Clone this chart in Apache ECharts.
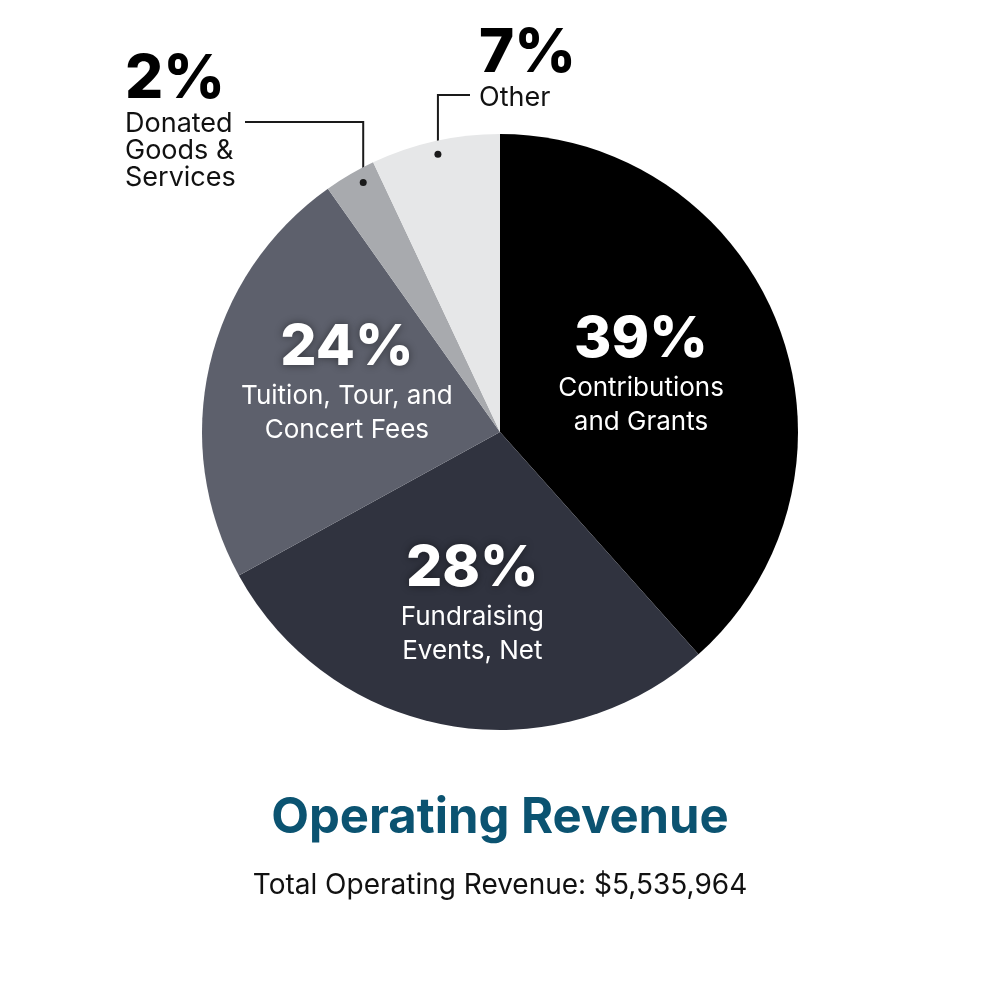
<!DOCTYPE html>
<html>
<head>
<meta charset="utf-8">
<script src="https://cdn.jsdelivr.net/npm/echarts@6/dist/echarts.min.js"></script>
<style>html,body{margin:0;padding:0;background:#fff}#c{width:1000px;height:1000px}</style>
</head>
<body>
<div id="c"></div>
<script>
const categories = ['Contributions and Grants', 'Fundraising Events, Net', 'Tuition, Tour, and Concert Fees', 'Donated Goods & Services', 'Other'];
const labelTexts = [['Contributions', 'and Grants'], ['Fundraising', 'Events, Net'], ['Tuition, Tour, and', 'Concert Fees'], ['Donated', 'Goods &', 'Services'], ['Other']];
// printed percentages
const pctLabels = [39, 28, 24, 2, 7];
// slice sizes as drawn in the picture (percent of the circle)
const values = [38.4, 28.6, 23.2, 2.8, 7.0];
const colors = ['#000000', '#30333f', '#5d606c', '#a8aaae', '#e6e7e8'];
const outsideIdx = [3, 4];

const FONT = 'Inter, "Open Sans", sans-serif';
const CX = 500, CY = 432, R = 298;
// layout constants for outside labels
const outsideLayout = {
  3: { x: 125, y: 50, lineY: 122, endX: 245, dotShift: 0.3 },
  4: { x: 479, y: 24, lineY: 95, endX: 470, dotShift: 0 }
};
const insideShift = { 0: [-1, -4], 1: [-2, 21], 2: [-5, -16] };

const total = values.reduce((a, b) => a + b, 0);
function midAngle(i, shift) {
  let s = 0;
  for (let k = 0; k < i; k++) s += values[k];
  return ((s + values[i] * (0.5 + (shift || 0) / 2)) / total) * 2 * Math.PI; // clockwise from top
}
function dotPos(i) {
  const a = midAngle(i, outsideLayout[i].dotShift), r = R * 0.955;
  return [CX + r * Math.sin(a), CY - r * Math.cos(a)];
}

const data = categories.map((name, i) => {
  const outside = outsideIdx.includes(i);
  const item = { name: name, value: values[i], itemStyle: { color: colors[i] } };
  if (outside) {
    item.label = {
      position: 'outside',
      formatter: '{q|' + pctLabels[i] + '%}\n' + labelTexts[i].map(t => '{m|' + t + '}').join('\n')
    };
    item.labelLine = { show: true, length: 10, length2: 10, lineStyle: { color: '#1a1a1a', width: 2 } };
  } else {
    item.label = {
      position: 'inside',
      formatter: '{p|' + pctLabels[i] + '%}\n' + labelTexts[i].map(t => '{n|' + t + '}').join('\n')
    };
    item.labelLine = { show: false };
  }
  return item;
});

const chart = echarts.init(document.getElementById('c'), null, { renderer: 'canvas' });
chart.setOption({
  backgroundColor: '#ffffff',
  animation: false,
  title: [
    { text: 'Operating Revenue', left: 'center', top: 789,
      textStyle: { fontFamily: FONT, fontSize: 49, fontWeight: 'bold', color: '#0b5371' } },
    { text: 'Total Operating Revenue: $5,535,964', left: 'center', top: 867,
      textStyle: { fontFamily: FONT, fontSize: 28, fontWeight: 'normal', color: '#111111' } }
  ],
  series: [{
    type: 'pie',
    center: [CX, CY],
    radius: R,
    startAngle: 90,
    clockwise: true,
    avoidLabelOverlap: false,
    silent: true,
    data: data,
    label: {
      show: true,
      fontFamily: FONT,
      rich: {
        p: { fontFamily: FONT, fontSize: 57, fontWeight: 800, color: '#ffffff', lineHeight: 62, align: 'center',
             textShadowColor: 'rgba(0,0,0,0.45)', textShadowBlur: 8 },
        n: { fontFamily: FONT, fontSize: 26, fontWeight: 'normal', color: '#ffffff', lineHeight: 34, align: 'center' },
        q: { fontFamily: FONT, fontSize: 60, fontWeight: 800, color: '#000000', lineHeight: 60, align: 'left' },
        m: { fontFamily: FONT, fontSize: 27, fontWeight: 'normal', color: '#111111', lineHeight: 27, align: 'left' }
      }
    },
    labelLayout: function (params) {
      const i = params.dataIndex;
      if (outsideLayout[i]) {
        const L = outsideLayout[i];
        const d = dotPos(i);
        return {
          x: L.x, y: L.y, align: 'left', verticalAlign: 'top',
          labelLinePoints: [[d[0], d[1]], [d[0], L.lineY], [L.endX, L.lineY]]
        };
      }
      const s = insideShift[i] || [0, 0];
      return { dx: s[0], dy: s[1] };
    }
  }],
  graphic: outsideIdx.map(i => {
    const d = dotPos(i);
    return { type: 'circle', shape: { cx: d[0], cy: d[1], r: 3.5 }, style: { fill: '#1a1a1a' }, z: 100 };
  })
});
</script>
</body>
</html>
